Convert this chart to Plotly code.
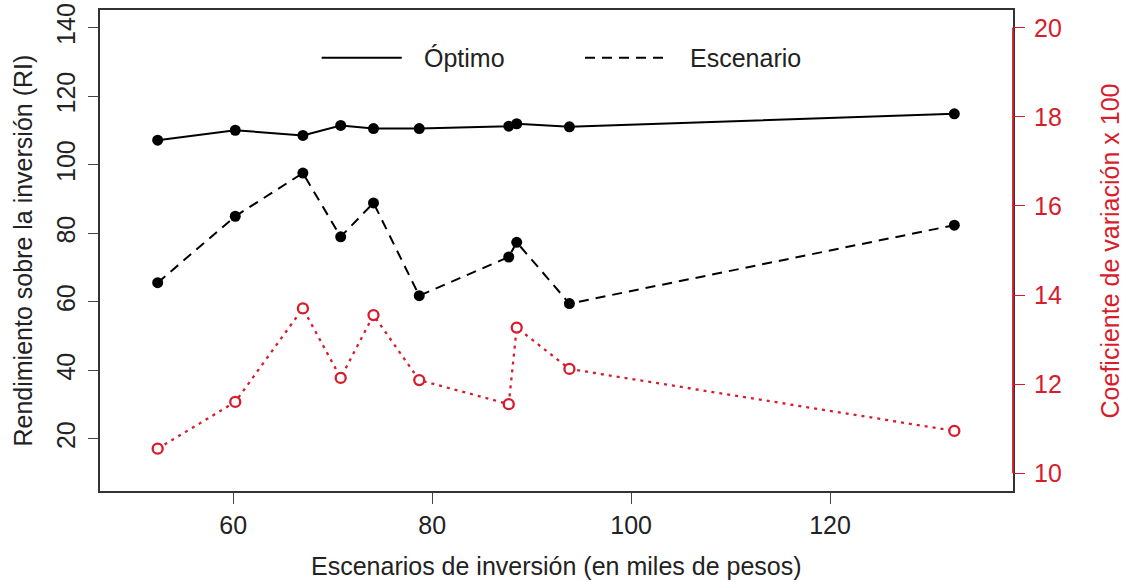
import plotly.graph_objects as go

# Data
inversion = [52.4, 60.2, 67.0, 70.8, 74.1, 78.7, 87.7, 88.5, 93.8, 132.5]
optimo = [107.2, 110.1, 108.6, 111.5, 110.6, 110.6, 111.3, 112.0, 111.1, 114.9]
escenario = [65.6, 85.0, 97.6, 79.0, 88.9, 61.8, 73.1, 77.4, 59.5, 82.4]
coef_var = [10.55, 11.6, 13.7, 12.14, 13.55, 12.09, 11.55, 13.27, 12.34, 10.95]

x_ticks = [60, 80, 100, 120]
y_ticks = [20, 40, 60, 80, 100, 120, 140]
y2_ticks = [10, 12, 14, 16, 18, 20]

RED = "#d81c2c"
FONT = "Liberation Sans, Arial, sans-serif"
FS = 25

fig = go.Figure()
fig.add_trace(go.Scatter(
    x=inversion, y=optimo, mode="lines+markers", name="Óptimo",
    line=dict(color="black", width=2),
    marker=dict(color="black", size=11)))
fig.add_trace(go.Scatter(
    x=inversion, y=escenario, mode="lines+markers", name="Escenario",
    line=dict(color="black", width=2, dash="10px,7px"),
    marker=dict(color="black", size=11)))
fig.add_trace(go.Scatter(
    x=inversion, y=coef_var, mode="lines+markers", name="CV", yaxis="y2",
    line=dict(color=RED, width=2.3, dash="3px,5px"),
    marker=dict(color="white", size=10, symbol="circle",
                line=dict(color=RED, width=2.3))))

fig.update_layout(
    width=1126, height=582,
    margin=dict(l=100, r=113, t=10, b=91, pad=0),
    paper_bgcolor="white", plot_bgcolor="white",
    showlegend=False,
    font=dict(family=FONT, size=FS, color="black"),
    xaxis=dict(range=[46.6, 138.4], tickvals=x_ticks, ticks="outside",
               ticklen=11, tickcolor="#444", tickwidth=1.2, automargin=False,
               showline=True, mirror=True, linecolor="#333", linewidth=1.6,
               showgrid=False, zeroline=False,
               tickfont=dict(size=FS, color="#222")),
    yaxis=dict(range=[4.8, 145.2], tickvals=y_ticks, ticks="outside",
               ticklen=10, tickcolor="#444", tickwidth=1.2, tickangle=-90,
               automargin=False, ticklabelstandoff=3,
               showline=True, mirror=True, linecolor="#333", linewidth=1.6,
               showgrid=False, zeroline=False,
               tickfont=dict(size=FS, color="#222")),
    yaxis2=dict(range=[9.6, 20.4], tickvals=y2_ticks, overlaying="y",
                side="right", ticks="outside", ticklen=11, tickcolor=RED,
                tickwidth=1.2, showline=False, showgrid=False, zeroline=False,
                automargin=False, ticklabelstandoff=4,
                tickfont=dict(size=FS, color=RED)),
)

# red right-axis line from 10 to 20
fig.add_shape(type="line", xref="paper", yref="y2", x0=1, x1=1, y0=10, y1=20,
              line=dict(color=RED, width=1.8))

# legend drawn manually (R-style, no markers)
fig.add_shape(type="line", xref="paper", yref="paper", x0=0.2428, x1=0.3305,
              y0=0.9007, y1=0.9007, line=dict(color="black", width=2))
fig.add_shape(type="line", xref="paper", yref="paper", x0=0.5312, x1=0.6207,
              y0=0.9007, y1=0.9007, line=dict(color="black", width=2, dash="10px,7px"))
fig.add_annotation(text="Óptimo", xref="paper", yref="paper", x=0.3524, y=0.9007,
                   xanchor="left", yanchor="middle", showarrow=False,
                   font=dict(size=FS, color="#222"))
fig.add_annotation(text="Escenario", xref="paper", yref="paper", x=0.6444, y=0.9007,
                   xanchor="left", yanchor="middle", showarrow=False,
                   font=dict(size=FS, color="#222"))

# axis titles
fig.add_annotation(text="Escenarios de inversión (en miles de pesos)", xref="paper",
                   yref="paper", x=0.5, y=-0.1565, xanchor="center", yanchor="middle",
                   showarrow=False, font=dict(size=FS, color="#222"))
fig.add_annotation(text="Rendimiento sobre la inversión (RI)", xref="paper",
                   yref="paper", x=-0.0854, y=0.5, xanchor="center", yanchor="middle",
                   textangle=-90, showarrow=False, font=dict(size=FS, color="#222"))
fig.add_annotation(text="Coeficiente de variación x 100", xref="paper",
                   yref="paper", x=1.1062, y=0.5, xanchor="center", yanchor="middle",
                   textangle=-90, showarrow=False, font=dict(size=FS, color=RED))

fig.write_html("out.html")
